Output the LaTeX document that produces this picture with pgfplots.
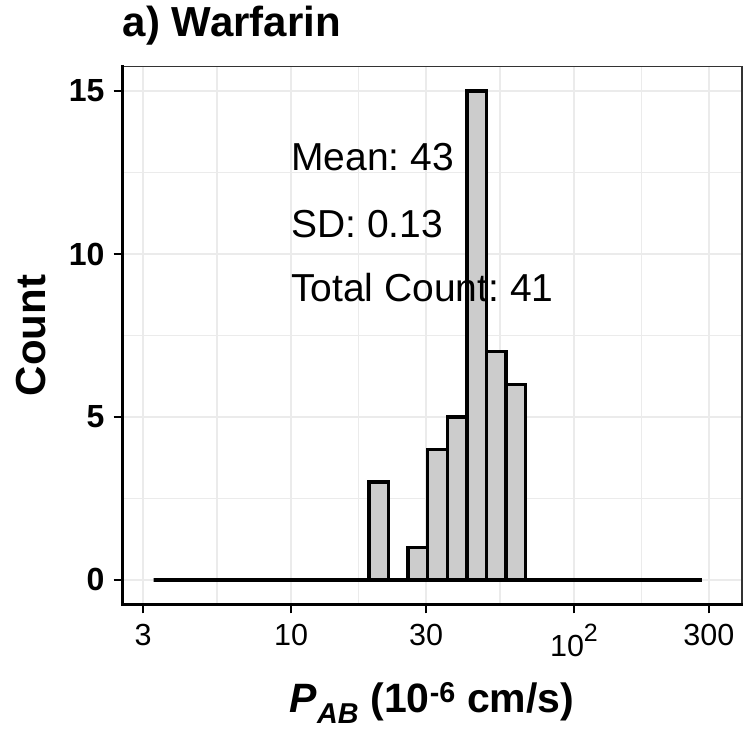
\documentclass[border=0pt]{standalone}
\usepackage{fontspec}
\setmainfont{Liberation Sans}
\usepackage{pgfplots}
\pgfplotsset{compat=1.18}
\definecolor{gridc}{HTML}{EBEBEB}
\definecolor{barfill}{HTML}{CCCCCC}
\definecolor{bord}{HTML}{333333}
\frenchspacing
\begin{document}
\begin{tikzpicture}
\useasboundingbox (-122.7pt,-124.7pt) rectangle (620.3pt,604.3pt);
\begin{axis}[
  name=ax,
  at={(0,0)}, anchor=south west,
  scale only axis, width=619.3pt, height=537.6pt,
  xmin=0.405, xmax=2.594, ymin=-0.75, ymax=15.75,
  axis line style={draw=bord, line width=1.3pt},
  tick pos=left,
  tick align=outside,
  major tick length=9pt,
  minor tick length=0pt,
  tick style={black, line width=2.6pt},
  xtick={0.47712,1,1.47712,2,2.47712},
  xticklabels={3,10,30,10\raisebox{15pt}{\fontsize{25}{25}\selectfont 2},300},
  minor xtick={0.7386,1.2386,1.7386,2.2386},
  ytick={0,5,10,15},
  yticklabels={0,5,10,15},
  minor ytick={2.5,7.5,12.5},
  grid=both,
  major grid style={gridc, line width=2.7pt},
  minor grid style={gridc, line width=1.7pt},
  xticklabel style={font=\fontsize{30.5}{30.5}\selectfont, anchor=north, inner sep=0pt, yshift=-11pt},
  yticklabel style={font=\bfseries\fontsize{32}{32}\selectfont, anchor=east, inner sep=0pt, xshift=-9pt},
]
\addplot[ybar interval, fill=barfill, draw=black, line width=3.4pt] coordinates {
(0.5141,0) (0.5833,0) (0.6525,0) (0.7218,0) (0.7910,0) (0.8602,0) (0.9294,0)
(0.9986,0) (1.0679,0) (1.1371,0) (1.2063,0) (1.2755,3) (1.3447,0) (1.4140,1)
(1.4832,4) (1.5524,5) (1.6216,15) (1.6908,7) (1.7601,6) (1.8293,0) (1.8985,0)
(1.9677,0) (2.0369,0) (2.1062,0) (2.1754,0) (2.2446,0) (2.3138,0) (2.3830,0)
(2.4523,0)
};
\node[anchor=base west, inner sep=0pt, font=\fontsize{39}{39}\selectfont] at (axis cs:1,12.556) {Mean: 43};
\node[anchor=base west, inner sep=0pt, font=\fontsize{39}{39}\selectfont] at (axis cs:1,10.52) {SD: 0.13};
\node[anchor=base west, inner sep=0pt, font=\fontsize{39}{39}\selectfont] at (axis cs:1,8.54) {Total Count: 41};
\end{axis}
\draw[black, line width=2.8pt, line cap=rect] (ax.north west) -- (ax.south west) -- (ax.south east);
\node[anchor=base west, inner sep=0pt, font=\bfseries\fontsize{42}{42}\selectfont] at (0pt,567.5pt) {a) Warfarin};
\node[rotate=90, anchor=base, inner sep=0pt, font=\bfseries\fontsize{42}{42}\selectfont] at (-76.7pt,268.8pt) {Count};
\node[anchor=base, inner sep=0pt, font=\bfseries\fontsize{41}{41}\selectfont] at (309.3pt,-107.7pt) {\textit{P}\textsubscript{\textit{AB}} (10\textsuperscript{-6} cm/s)};
\end{tikzpicture}
\end{document}
